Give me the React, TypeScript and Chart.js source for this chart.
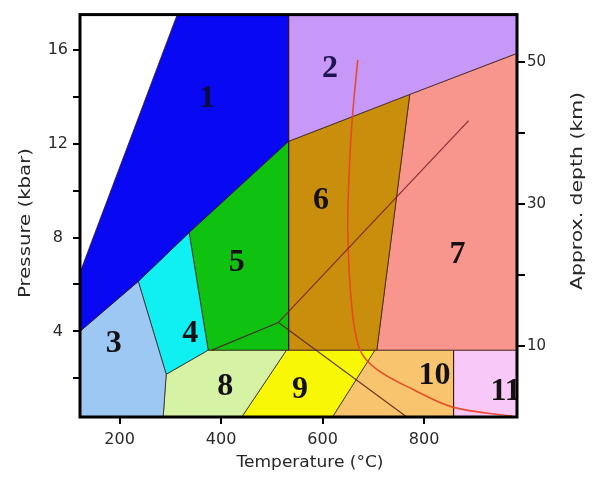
import React, { useEffect, useRef } from 'react';
import { Chart, registerables } from 'chart.js';

Chart.register(...registerables);

// Axis ranges and ticks
const temperatureRange = [122, 983];
const pressureRange = [0.35, 17.5];
const depthRange = [0, 56.7];
const temperatureTicks = [200, 400, 600, 800];
const pressureTicks = [2, 4, 6, 8, 10, 12, 14, 16];
const pressureLabels = [4, 8, 12, 16];
const depthTicks = [10, 20, 30, 40, 50];
const depthLabels = [10, 30, 50];

// Facies fields (temperature °C, pressure kbar)
const zone1T = [122, 122, 313.5, 533, 533, 337, 236.8];
const zone1P = [4.0, 6.51, 17.5, 17.5, 12.1, 8.21, 6.13];
const zone2T = [533, 983, 983, 771.7, 533];
const zone2P = [17.5, 17.5, 15.85, 14.1, 12.1];
const zone3T = [122, 122, 236.8, 291.8, 285.9];
const zone3P = [0.35, 4.0, 6.13, 2.17, 0.35];
const zone4T = [236.8, 337, 374.5, 291.8];
const zone4P = [6.13, 8.21, 3.2, 2.17];
const zone5T = [337, 533, 533, 374.5];
const zone5P = [8.21, 12.1, 3.2, 3.2];
const zone6T = [533, 771.7, 706.8, 533];
const zone6P = [12.1, 14.1, 3.2, 3.2];
const zone7T = [771.7, 983, 983, 706.8];
const zone7P = [14.1, 15.85, 3.2, 3.2];
const zone8T = [291.8, 374.5, 528.8, 440.7, 285.9];
const zone8P = [2.17, 3.2, 3.2, 0.35, 0.35];
const zone9T = [528.8, 703, 619.3, 440.7];
const zone9P = [3.2, 3.2, 0.35, 0.35];
const zone10T = [703, 858, 858, 619.3];
const zone10P = [3.2, 3.2, 0.35, 0.35];
const zone11T = [858, 983, 983, 858];
const zone11P = [3.2, 3.2, 0.35, 0.35];

const zoneColors = [
  '#0808f2', '#c898f8', '#9ec8f4', '#10f0f2', '#10c210', '#c98f0c',
  '#f8968e', '#d6f2a4', '#f8f806', '#f8c46e', '#f8c8f8',
];
const zoneNames = ['1', '2', '3', '4', '5', '6', '7', '8', '9', '10', '11'];
const zoneLabelT = [372.5, 614.5, 188.4, 339, 431, 596.6, 866, 408, 555.5, 820.4, 960.5];
const zoneLabelP = [14.01, 15.32, 3.59, 4.01, 7.06, 9.7, 7.4, 1.74, 1.62, 2.23, 1.55];

// Al2SiO5 reaction lines
const kyAndT = [381.7, 513];
const kyAndP = [3.2, 4.38];
const kySilT = [513, 887.7];
const kySilP = [4.38, 12.98];
const andSilT = [513, 765.8];
const andSilP = [4.38, 0.35];

// Wet granite solidus
const solidusT = [669.2, 659.4, 653.5, 649.6, 657.5, 673.3, 706.8, 777.6, 856.3, 974.3];
const solidusP = [15.57, 13.32, 11.32, 8.34, 5.06, 3.23, 2.38, 1.53, 0.77, 0.38];

const zonesT = [zone1T, zone2T, zone3T, zone4T, zone5T, zone6T, zone7T, zone8T, zone9T, zone10T, zone11T];
const zonesP = [zone1P, zone2P, zone3P, zone4P, zone5P, zone6P, zone7P, zone8P, zone9P, zone10P, zone11P];

const toPoints = (ts: number[], ps: number[], close = false) => {
  const pts = ts.map((t, i) => ({ x: t, y: ps[i] }));
  if (close) pts.push({ x: ts[0], y: ps[0] });
  return pts;
};

const stretchedText = (
  ctx: CanvasRenderingContext2D, text: string, cx: number, cy: number,
  rot: number, font: string, targetWidth: number, color: string
) => {
  ctx.save();
  ctx.font = font;
  ctx.fillStyle = color;
  const w = ctx.measureText(text).width;
  ctx.translate(cx, cy);
  ctx.rotate(rot);
  ctx.scale(targetWidth / w, 1);
  ctx.textAlign = 'center';
  ctx.textBaseline = 'middle';
  ctx.fillText(text, 0, 0);
  ctx.restore();
};

const overlayPlugin = {
  id: 'overlay',
  afterDatasetsDraw(chart: any) {
    const { ctx, chartArea, scales } = chart;
    const xs = scales.x;
    const ys = scales.y;
    ctx.save();
    ctx.beginPath();
    ctx.rect(chartArea.left, chartArea.top, chartArea.right - chartArea.left, chartArea.bottom - chartArea.top);
    ctx.clip();
    ctx.font = 'bold 32px "Liberation Serif", "Times New Roman", serif';
    ctx.textAlign = 'center';
    ctx.textBaseline = 'alphabetic';
    zoneNames.forEach((name, i) => {
      const px = xs.getPixelForValue(zoneLabelT[i]);
      const py = ys.getPixelForValue(zoneLabelP[i]);
      ctx.fillStyle = i === 0 ? '#0c0c3a' : i === 1 ? '#1c1450' : '#141014';
      ctx.fillText(name, px, py + 11);
    });
    ctx.restore();
    ctx.save();
    ctx.strokeStyle = '#000';
    ctx.lineWidth = 3;
    ctx.strokeRect(chartArea.left, chartArea.top, chartArea.right - chartArea.left, chartArea.bottom - chartArea.top);
    ctx.restore();
  },
  afterDraw(chart: any) {
    const { ctx } = chart;
    const font = '16px "DejaVu Sans", sans-serif';
    stretchedText(ctx, 'Pressure (kbar)', 26, 223, -Math.PI / 2, font, 150, '#262626');
    stretchedText(ctx, 'Approx. depth (km)', 578, 191, -Math.PI / 2, font, 198, '#262626');
    stretchedText(ctx, 'Temperature (°C)', 310, 463, 0, font, 147, '#262626');
  },
};

export default function App() {
  const canvasRef = useRef<HTMLCanvasElement | null>(null);

  useEffect(() => {
    if (!canvasRef.current) return;
    const polyDatasets = zonesT.map((ts, i) => ({
      type: 'line' as const,
      data: toPoints(ts, zonesP[i], true),
      backgroundColor: zoneColors[i],
      borderColor: 'rgba(50,25,20,0.75)',
      borderWidth: 1,
      fill: 'shape',
      pointRadius: 0,
      tension: 0,
      order: 3,
      xAxisID: 'x',
      yAxisID: 'y',
    }));
    const lineStyle = (ts: number[], ps: number[], color: string, width: number, tension = 0) => ({
      type: 'line' as const,
      data: toPoints(ts, ps),
      borderColor: color,
      backgroundColor: color,
      borderWidth: width,
      fill: false,
      pointRadius: 0,
      tension,
      order: 1,
      xAxisID: 'x',
      yAxisID: 'y',
    });
    const lineDatasets = [
      lineStyle(kyAndT, kyAndP, 'rgba(70,25,20,0.85)', 1.2),
      lineStyle(kySilT, kySilP, 'rgba(120,25,45,0.85)', 1.2),
      lineStyle(andSilT, andSilP, 'rgba(80,30,15,0.85)', 1.2),
      lineStyle(solidusT, solidusP, 'rgba(232,70,36,0.95)', 1.6, 0.35),
    ];

    const tickFont = { family: '"DejaVu Sans", sans-serif', size: 16 };
    const chart = new Chart(canvasRef.current, {
      type: 'scatter',
      data: { datasets: [...lineDatasets, ...polyDatasets] as any },
      options: {
        animation: false,
        responsive: false,
        maintainAspectRatio: false,
        layout: { padding: { top: 14, left: 0, right: 0, bottom: 0 } },
        plugins: { legend: { display: false }, tooltip: { enabled: false }, title: { display: false } },
        scales: {
          x: {
            type: 'linear',
            position: 'bottom',
            min: temperatureRange[0],
            max: temperatureRange[1],
            afterBuildTicks: (s: any) => { s.ticks = temperatureTicks.map((v) => ({ value: v })); },
            afterFit: (s: any) => { s.height = 64; },
            ticks: { font: tickFont, color: '#2a2a2a', padding: 6, maxRotation: 0, autoSkip: false },
            grid: { drawOnChartArea: false, drawTicks: true, tickLength: 7, color: '#000', lineWidth: 2 },
            border: { display: false },
          },
          y: {
            type: 'linear',
            position: 'left',
            min: pressureRange[0],
            max: pressureRange[1],
            afterBuildTicks: (s: any) => { s.ticks = pressureTicks.map((v) => ({ value: v })); },
            afterFit: (s: any) => { s.width = 80; },
            ticks: {
              font: tickFont, color: '#2a2a2a', padding: 5, crossAlign: 'center', autoSkip: false,
              callback: (v: any) => (pressureLabels.includes(Number(v)) ? String(v) : ''),
            },
            grid: { drawOnChartArea: false, drawTicks: true, tickLength: 7, color: '#000', lineWidth: 2 },
            border: { display: false },
          },
          depth: {
            type: 'linear',
            position: 'right',
            min: depthRange[0],
            max: depthRange[1],
            afterBuildTicks: (s: any) => { s.ticks = depthTicks.map((v) => ({ value: v })); },
            afterFit: (s: any) => { s.width = 77; },
            ticks: {
              font: { family: '"DejaVu Sans", sans-serif', size: 15 }, color: '#2a2a2a', padding: 2, autoSkip: false,
              callback: (v: any) => (depthLabels.includes(Number(v)) ? String(v) : ''),
            },
            grid: { drawOnChartArea: false, drawTicks: true, tickLength: 8, color: '#000', lineWidth: 2 },
            border: { display: false },
          },
        },
      } as any,
      plugins: [overlayPlugin],
    });
    return () => chart.destroy();
  }, []);

  return (
    <div style={{ position: 'fixed', left: 0, top: 0, width: 594, height: 481, background: '#fff' }}>
      <canvas ref={canvasRef} width={594} height={481} style={{ width: 594, height: 481, display: 'block' }} />
    </div>
  );
}
